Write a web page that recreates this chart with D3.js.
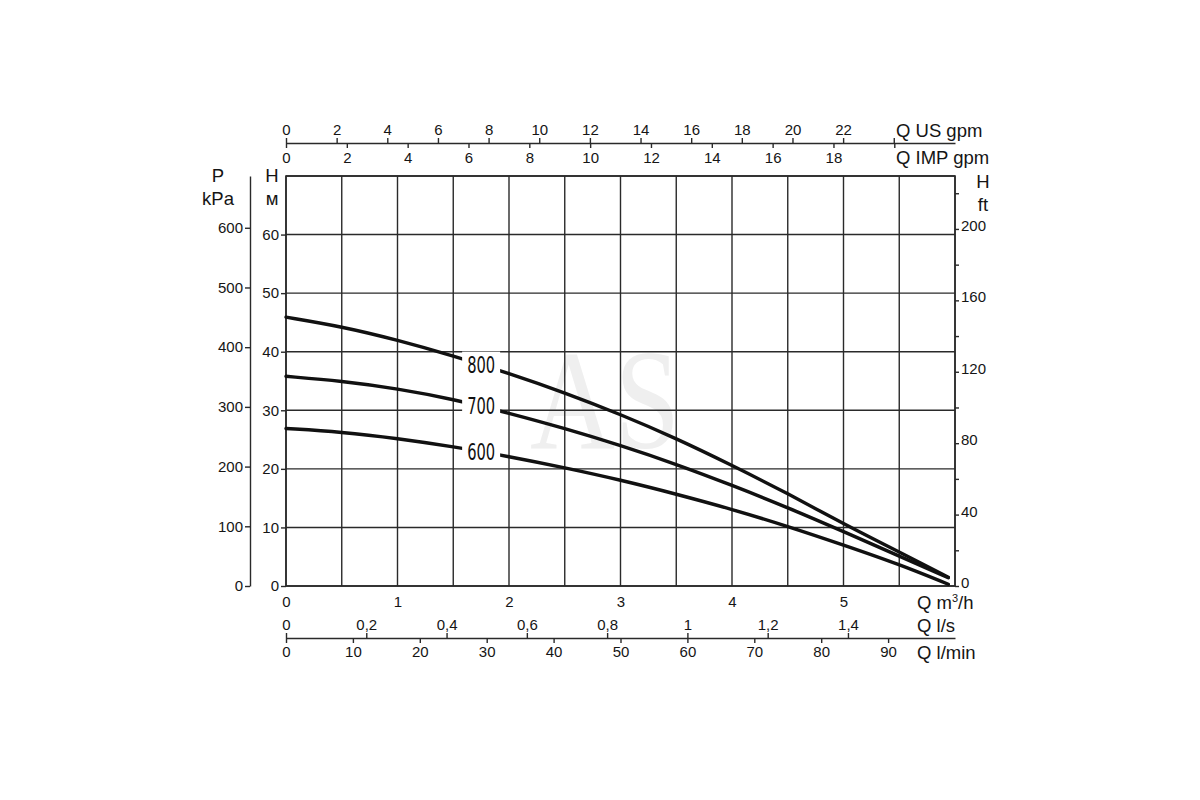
<!DOCTYPE html>
<html>
<head>
<meta charset="utf-8">
<title>Pump curves</title>
<script src="https://cdn.jsdelivr.net/npm/d3@7"></script>
<style>
    html, body { margin: 0; padding: 0; background: #fff; }
    #chart { width: 1200px; height: 800px; }
    text { font-family: "Liberation Sans", Arial, sans-serif; fill: #151515; }
    .tick line, .domain { stroke: #2a2a2a; stroke-width: 1.4; }
</style>
</head>
<body>
<div id="chart"></div>
<script>
// Flow rate points, m3/h
var flowPoints = [0, 0.5, 1, 1.5, 2, 2.5, 3, 3.5, 4, 4.5, 5, 5.5, 5.94];
// Head (m) of each model at those flow points
var head800 = [45.9, 44.3, 42.0, 39.3, 36.3, 33.0, 29.3, 25.2, 20.6, 15.8, 10.6, 5.8, 1.5];
var head700 = [35.8, 35.0, 33.7, 31.9, 29.5, 26.9, 24.0, 20.8, 17.2, 13.4, 9.3, 5.1, 1.4];
var head600 = [26.9, 26.3, 25.2, 23.8, 22.1, 20.2, 18.1, 15.7, 13.1, 10.2, 7.0, 3.7, 0.3];
var modelNames = ["800", "700", "600"];

// Tick values for every scale
var qTicks = [0, 1, 2, 3, 4, 5];
var qGrid = d3.range(0, 6.01, 0.5);
var hTicks = [0, 10, 20, 30, 40, 50, 60];
var hGrid = d3.range(0, 70.1, 10);
var kpaTicks = [0, 100, 200, 300, 400, 500, 600];
var ftTicks = d3.range(0, 221, 20);
var ftLabels = [0, 40, 80, 120, 160, 200];
var usGpmTicks = d3.range(0, 25, 2);
var impGpmTicks = d3.range(0, 21, 2);
var lsTicks = [0, 0.2, 0.4, 0.6, 0.8, 1, 1.2, 1.4];
var lminTicks = [0, 10, 20, 30, 40, 50, 60, 70, 80, 90];

var labelQ = 1.75;

(function () {
    var W = 1200, H = 800;
    var left = 286, right = 955, top = 176, bottom = 586;
    var qMax = 6, hMax = 70;
    var tickFont = 15;

    var comma = d3.formatLocale({ decimal: ",", thousands: " ", grouping: [3], currency: ["", ""] });
    var fmt = comma.format("~g");

    var svg = d3.select("#chart").append("svg")
        .attr("width", W)
        .attr("height", H);

    // Scales
    var x = d3.scaleLinear().domain([0, qMax]).range([left, right]);
    var y = d3.scaleLinear().domain([0, hMax]).range([bottom, top]);
    var yKpa = d3.scaleLinear().domain([0, hMax * 9.81]).range([bottom, top]);
    var yFt = d3.scaleLinear().domain([0, hMax * 3.2808]).range([bottom, top]);
    var xUs = d3.scaleLinear().domain([0, qMax * 4.403]).range([left, right]);
    var xImp = d3.scaleLinear().domain([0, qMax * 3.666]).range([left, right]);
    var xLs = d3.scaleLinear().domain([0, qMax / 3.6]).range([left, right]);
    var xLmin = d3.scaleLinear().domain([0, qMax * 1000 / 60]).range([left, right]);

    // Watermark
    svg.append("text")
        .attr("x", 605)
        .attr("y", 448)
        .attr("text-anchor", "middle")
        .attr("textLength", 150)
        .attr("lengthAdjust", "spacingAndGlyphs")
        .style("font-family", "'Liberation Serif', 'DejaVu Serif', serif")
        .style("font-size", "142px")
        .style("fill", "#efefef")
        .text("AS");

    // Grid
    var grid = svg.append("g").attr("class", "grid")
        .attr("stroke", "#2a2a2a")
        .attr("stroke-width", 1.4);
    grid.selectAll("line.v")
        .data(qGrid)
        .enter().append("line")
            .attr("class", "v")
            .attr("x1", function(d) { return x(d); })
            .attr("x2", function(d) { return x(d); })
            .attr("y1", top)
            .attr("y2", bottom);
    grid.selectAll("line.h")
        .data(hGrid)
        .enter().append("line")
            .attr("class", "h")
            .attr("x1", left)
            .attr("x2", right)
            .attr("y1", function(d) { return y(d); })
            .attr("y2", function(d) { return y(d); });

    // Axes
    function style(g) {
        g.selectAll("text").style("font-size", tickFont + "px");
        return g;
    }
    function noDomain(g) { g.select(".domain").remove(); }

    // m3/h under the grid
    svg.append("g")
        .attr("transform", "translate(0," + bottom + ")")
        .call(d3.axisBottom(x).tickValues(qTicks).tickSize(0).tickPadding(10).tickFormat(fmt))
        .call(noDomain)
        .call(style);

    // H m on the left of the frame
    svg.append("g")
        .attr("transform", "translate(" + left + ",0)")
        .call(d3.axisLeft(y).tickValues(hTicks).tickSize(5).tickPadding(2))
        .call(noDomain)
        .call(style);

    // P kPa
    svg.append("g")
        .attr("transform", "translate(250,0)")
        .call(d3.axisLeft(yKpa).tickValues(kpaTicks).tickSize(5).tickPadding(2).tickSizeOuter(0))
        .call(style);

    // H ft on the right
    svg.append("g")
        .attr("transform", "translate(" + right + ",0)")
        .call(d3.axisRight(yFt).tickValues(ftTicks).tickSize(4).tickPadding(2)
            .tickFormat(function(d) { return ftLabels.indexOf(d) >= 0 ? d : ""; }))
        .call(noDomain)
        .call(style)
        .call(function(g) { g.selectAll("text").attr("dy", "0.1em"); });

    // Top: US gpm above the line, IMP gpm below it
    svg.append("g")
        .attr("transform", "translate(0,143)")
        .call(d3.axisTop(xUs).tickValues(usGpmTicks).tickSize(5).tickPadding(3).tickSizeOuter(0)
            .tickFormat(function(d) { return d < 24 ? d : ""; }))
        .call(style);
    svg.append("g")
        .attr("transform", "translate(0,143)")
        .call(d3.axisBottom(xImp).tickValues(impGpmTicks).tickSize(5).tickPadding(4).tickSizeOuter(0)
            .tickFormat(function(d) { return d < 20 ? d : ""; }))
        .call(noDomain)
        .call(style);

    // Bottom: l/s above the line, l/min below it
    svg.append("g")
        .attr("transform", "translate(0,638)")
        .call(d3.axisTop(xLs).tickValues(lsTicks).tickSize(5).tickPadding(3).tickSizeOuter(0).tickFormat(fmt))
        .call(style);
    svg.append("g")
        .attr("transform", "translate(0,638)")
        .call(d3.axisBottom(xLmin).tickValues(lminTicks).tickSize(5).tickPadding(3).tickSizeOuter(0))
        .call(noDomain)
        .call(style);

    // Frame
    svg.append("rect")
        .attr("x", left)
        .attr("y", top)
        .attr("width", right - left)
        .attr("height", bottom - top)
        .attr("fill", "none")
        .attr("stroke", "#2a2a2a")
        .attr("stroke-width", 1.6);

    // Unit titles
    var titles = [
        { t: "P", x: 218, y: 182, a: "middle" },
        { t: "kPa", x: 218, y: 205, a: "middle" },
        { t: "H", x: 272, y: 182, a: "middle" },
        { t: "м", x: 272, y: 205, a: "middle" },
        { t: "H", x: 983, y: 188, a: "middle" },
        { t: "ft", x: 983, y: 211, a: "middle" },
        { t: "Q US gpm", x: 896, y: 137, a: "start" },
        { t: "Q IMP gpm", x: 896, y: 164, a: "start" },
        { t: "Q l/s", x: 917, y: 632, a: "start" },
        { t: "Q l/min", x: 917, y: 659, a: "start" }
    ];
    svg.append("g").selectAll("text")
        .data(titles)
        .enter().append("text")
            .attr("x", function(d) { return d.x; })
            .attr("y", function(d) { return d.y; })
            .attr("text-anchor", function(d) { return d.a; })
            .style("font-size", "18.5px")
            .text(function(d) { return d.t; });
    var qm = svg.append("text")
        .attr("x", 917)
        .attr("y", 609)
        .style("font-size", "18.5px");
    qm.append("tspan").text("Q m");
    qm.append("tspan").attr("dy", -7).style("font-size", "11px").text("3");
    qm.append("tspan").attr("dy", 7).text("/h");

    // Curves
    var series = [head800, head700, head600].map(function(h, i) {
        return {
            name: modelNames[i],
            values: flowPoints.map(function(q, j) { return { q: q, h: h[j] }; })
        };
    });

    var line = d3.line()
        .x(function(d) { return x(d.q); })
        .y(function(d) { return y(d.h); })
        .curve(d3.curveBasis);

    svg.append("g").selectAll("path")
        .data(series)
        .enter().append("path")
            .attr("d", function(d) { return line(d.values); })
            .attr("fill", "none")
            .attr("stroke", "#111")
            .attr("stroke-width", 3.4)
            .attr("stroke-linecap", "round");

    // Labels sit on the curve and break it
    function headAt(values, q) {
        var i = d3.bisector(function(d) { return d.q; }).left(values, q);
        var a = values[i - 1], b = values[i];
        return a.h + (b.h - a.h) * (q - a.q) / (b.q - a.q);
    }
    var labels = svg.append("g").selectAll("g")
        .data(series)
        .enter().append("g")
            .attr("transform", function(d) {
                return "translate(" + x(labelQ) + "," + y(headAt(d.values, labelQ)) + ")";
            });
    labels.append("rect")
        .attr("x", -19)
        .attr("y", -13)
        .attr("width", 38)
        .attr("height", 26)
        .attr("fill", "#fff");
    labels.append("text")
        .attr("text-anchor", "middle")
        .attr("dy", "0.36em")
        .attr("textLength", 28)
        .attr("lengthAdjust", "spacingAndGlyphs")
        .style("font-family", "'Liberation Sans Narrow', 'DejaVu Sans Condensed', sans-serif")
        .style("font-size", "23px")
        .style("fill", "#111")
        .text(function(d) { return d.name; });
}());
</script>
</body>
</html>
